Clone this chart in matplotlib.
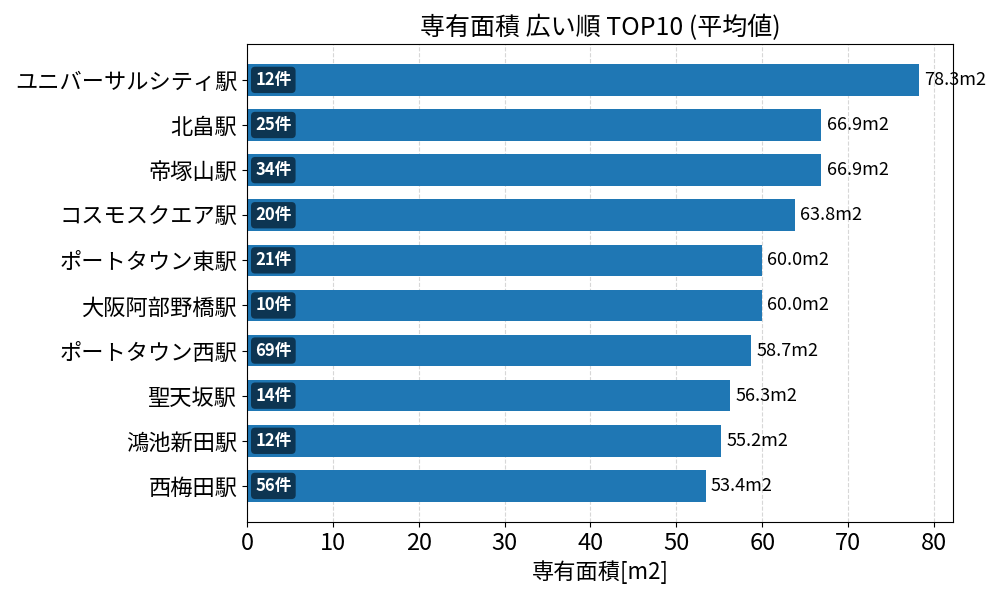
import matplotlib
matplotlib.use("Agg")
import matplotlib.pyplot as plt

plt.rcParams['font.family'] = ['Noto Sans CJK JP', 'DejaVu Sans']

stations = ["ユニバーサルシティ駅", "北畠駅", "帝塚山駅", "コスモスクエア駅", "ポートタウン東駅",
            "大阪阿部野橋駅", "ポートタウン西駅", "聖天坂駅", "鴻池新田駅", "西梅田駅"]
areas = [78.3, 66.9, 66.9, 63.8, 60.0, 60.0, 58.7, 56.3, 55.2, 53.4]
counts = [12, 25, 34, 20, 21, 10, 69, 14, 12, 56]

fig, ax = plt.subplots(figsize=(10, 6), dpi=100)
ypos = list(range(len(stations)))[::-1]
ax.barh(ypos, areas, height=0.7, color='#1f77b4', zorder=2)
ax.set_yticks(ypos)
ax.set_yticklabels(stations, fontsize=16)
ax.tick_params(axis='x', labelsize=17)
ax.set_xlim(0, max(areas) * 1.05)
ax.set_ylim(-0.5 - 0.3, len(stations) - 0.5 + 0.3)
ax.grid(axis='x', linestyle='--', alpha=0.5, zorder=0)
ax.set_axisbelow(True)
for y, a, c in zip(ypos, areas, counts):
    ax.text(a + 0.6, y, f"{a:.1f}m2", va='center', ha='left', fontsize=13)
    ax.text(0.95, y, f"{c}件", va='center', ha='left', fontsize=12, color='white',
            fontweight='bold',
            bbox=dict(boxstyle='round,pad=0.25', facecolor='#0d3552', edgecolor='none'))
ax.set_xlabel("専有面積[m2]", fontsize=16)
ax.set_title("専有面積 広い順 TOP10 (平均値)", fontsize=18)
fig.subplots_adjust(left=0.247, right=0.953, top=0.927, bottom=0.13)
fig.savefig("out.png")
